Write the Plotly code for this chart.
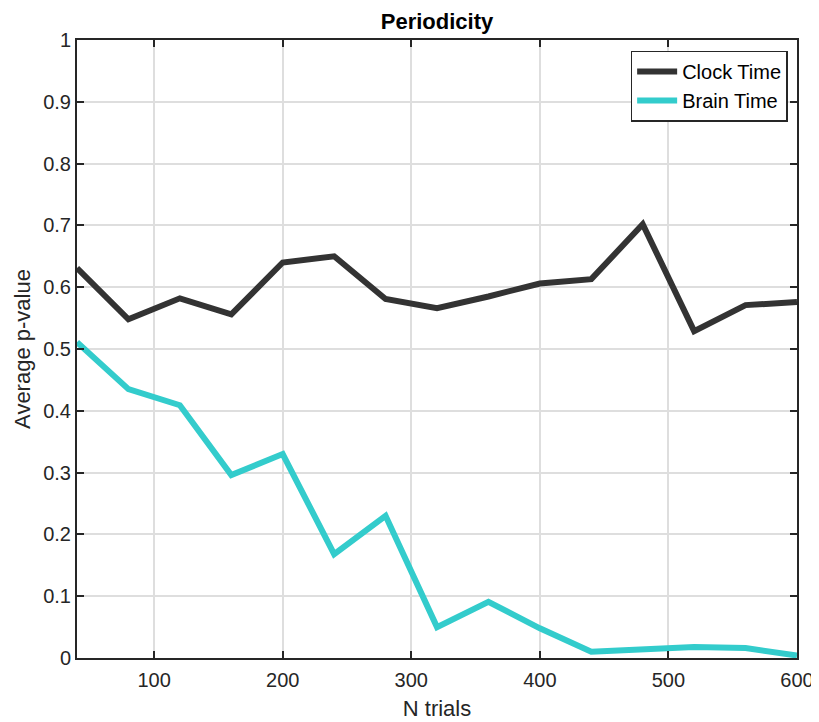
import plotly.graph_objects as go

n_trials = [40, 80, 120, 160, 200, 240, 280, 320, 360, 400, 440, 480, 520, 560, 600]
clock_time = [0.631, 0.548, 0.582, 0.556, 0.640, 0.650, 0.581, 0.566, 0.585, 0.606, 0.613, 0.702, 0.529, 0.571, 0.576]
brain_time = [0.511, 0.435, 0.409, 0.296, 0.330, 0.168, 0.230, 0.050, 0.091, 0.048, 0.010, 0.015, 0.018, 0.016, 0.004]
x_ticks = [100, 200, 300, 400, 500, 600]
y_ticks = [0, 0.1, 0.2, 0.3, 0.4, 0.5, 0.6, 0.7, 0.8, 0.9, 1]
y_tick_labels = ["0", "0.1", "0.2", "0.3", "0.4", "0.5", "0.6", "0.7", "0.8", "0.9", "1"]

fig = go.Figure()
fig.add_trace(go.Scatter(x=n_trials, y=clock_time, mode="lines", name="Clock Time",
                         line=dict(color="#333333", width=6)))
fig.add_trace(go.Scatter(x=n_trials, y=brain_time, mode="lines", name="Brain Time",
                         line=dict(color="#33CCCC", width=6)))

font = "Liberation Sans, Arial, sans-serif"
axis_common = dict(showline=True, linecolor="#262626", linewidth=2, mirror="ticks",
                   ticks="inside", ticklen=7, tickwidth=2, tickcolor="#262626",
                   showgrid=True, gridcolor="#DEDEDE", gridwidth=2, zeroline=False,
                   automargin=False,
                   tickfont=dict(family=font, size=20, color="#262626"))

fig.update_layout(
    width=811, height=714,
    paper_bgcolor="white", plot_bgcolor="white",
    margin=dict(l=69, r=22, t=32, b=64, autoexpand=False),
    title=dict(text="<b>Periodicity</b>", x=0.5, xanchor="center", xref="paper",
               y=1, yref="paper", yanchor="bottom", pad=dict(b=11),
               font=dict(family=font, size=22, color="black")),
    xaxis=dict(range=[40, 600], tickvals=x_ticks, ticklabelstandoff=3,
               title=dict(text="N trials", font=dict(family=font, size=22, color="#262626"), standoff=11),
               **axis_common),
    yaxis=dict(range=[0, 1], tickvals=y_ticks, ticktext=y_tick_labels, ticklabelstandoff=0,
               title=dict(text="Average p-value", font=dict(family=font, size=22, color="#262626"), standoff=6),
               **axis_common),
    legend=dict(x=0.987, y=0.983, xanchor="right", yanchor="top",
                bordercolor="#262626", borderwidth=1.5, bgcolor="white",
                font=dict(family=font, size=20, color="black"),
                tracegroupgap=0, itemwidth=40),
    showlegend=True,
)

fig.write_html("out.html")
